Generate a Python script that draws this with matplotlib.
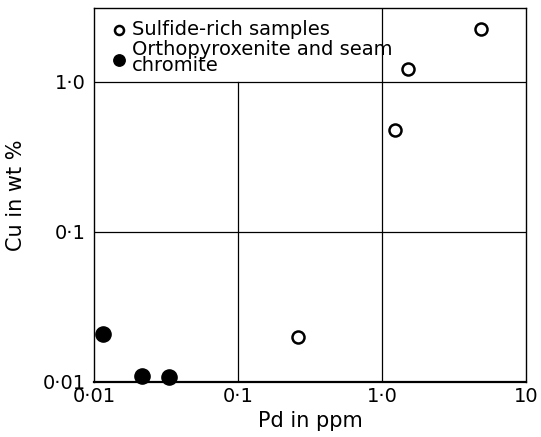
import numpy as np
import matplotlib
matplotlib.use("Agg")
import matplotlib.pyplot as plt

# values
sulfide_pd = [0.26, 1.23, 1.52, 4.9]
sulfide_cu = [0.020, 0.48, 1.21, 2.25]
opx_pd = [0.0115, 0.0214, 0.033]
opx_cu = [0.0207, 0.011, 0.0108]

tick_vals = [0.01, 0.1, 1.0, 10]
x_labels = ["0·01", "0·1", "1·0", "10"]
y_labels = ["0·01", "0·1", "1·0"]

xmin, xmax = 0.01, 10
ymin, ymax = 0.01, 3.1

fig = plt.figure(figsize=(5.41, 4.37), dpi=100)
ax = fig.add_axes([0.174, 0.126, 0.798, 0.856])
ax.set_xscale("log")
ax.set_yscale("log")
ax.set_xlim(xmin, xmax)
ax.set_ylim(ymin, ymax)

# grid by hand, the legend box hides the part above 1.0 left of 1.0
y_one = np.log10(1.0 / ymin) / np.log10(ymax / ymin)
ax.axvline(0.1, ymax=y_one, color="black", lw=0.9)
ax.axvline(1.0, color="black", lw=0.9)
ax.axhline(0.1, color="black", lw=0.9)
ax.axhline(1.0, color="black", lw=0.9)

ax.scatter(sulfide_pd, sulfide_cu, s=75, facecolors="white", edgecolors="black",
           linewidths=1.8, zorder=3, label="Sulfide-rich samples", clip_on=False)
ax.scatter(opx_pd, opx_cu, s=120, color="black", zorder=3,
           label="Orthopyroxenite and seam\nchromite", clip_on=False)

leg = ax.legend(loc="upper left", bbox_to_anchor=(0.0, 1.005), frameon=False,
                fontsize=14, handletextpad=0.05, borderaxespad=0.3,
                labelspacing=0.05, handlelength=1.2, markerscale=0.75)
for t in leg.get_texts():
    t.set_linespacing(0.85)

ax.set_xticks(tick_vals)
ax.set_xticklabels(x_labels)
ax.set_yticks(tick_vals[:3])
ax.set_yticklabels(y_labels)
ax.minorticks_off()
ax.tick_params(length=0, labelsize=14)
ax.tick_params(axis="x", pad=4)
ax.tick_params(axis="y", pad=6)

for s in ax.spines.values():
    s.set_linewidth(1.0)
ax.spines["bottom"].set_linewidth(1.6)

ax.set_xlabel("Pd in ppm", fontsize=15, labelpad=3)
ax.set_ylabel("Cu in wt %", fontsize=15, labelpad=12)

fig.savefig("out.png", dpi=100)
